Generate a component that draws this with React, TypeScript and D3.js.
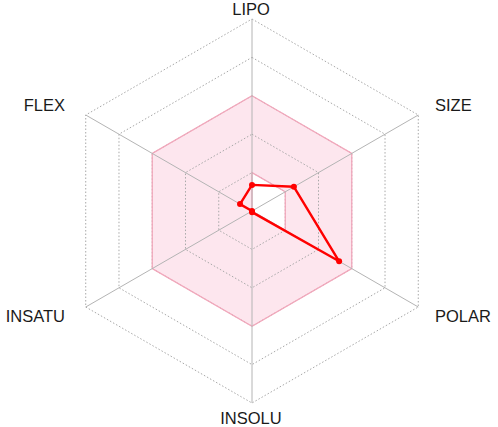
import React from 'react';
import { scaleLinear, lineRadial, curveLinearClosed } from 'd3';

// axis labels, clockwise from the top
const axes = ['LIPO', 'SIZE', 'POLAR', 'INSOLU', 'INSATU', 'FLEX'];
// compound values (0..5 scale)
const values = [0.68, 1.26, 2.62, 0.03, 0, 0.36];
// optimal (pink) range per axis
const optMin = [1, 1, 1, 0, 0, 0];
const optMax = [3, 3, 3, 3, 3, 3];
const rings = [1, 2, 3, 4, 5];

const width = 498;
const height = 427;
const cx = 252;
const cy = 211;
const R = 192;

const App = () => {
  const rScale = scaleLinear().domain([0, 5]).range([0, R]);
  const angle = (i: number) => (i * 2 * Math.PI) / axes.length;
  const px = (i: number, v: number) => Math.sin(angle(i)) * rScale(v);
  const py = (i: number, v: number) => -Math.cos(angle(i)) * rScale(v);

  const ringPath = lineRadial<number>()
    .angle((_, i) => angle(i))
    .radius(d => rScale(d))
    .curve(curveLinearClosed);

  // pink band: outer polygon + inner polygon (evenodd)
  const outer = axes.map((_, i) => [px(i, optMax[i]), py(i, optMax[i])]);
  const inner = axes.map((_, i) => [px(i, optMin[i]), py(i, optMin[i])]);
  const poly = (pts: number[][]) => 'M' + pts.map(p => p.join(',')).join('L') + 'Z';

  const labelPos = (i: number) => {
    const s = Math.sin(angle(i));
    const c = Math.cos(angle(i));
    if (Math.abs(s) < 0.01) return { x: -1, y: -c * 204.5 + 8.5, anchor: 'middle' };
    return { x: s > 0 ? 183 : -187, y: -c * 211 + 5.5, anchor: s > 0 ? 'start' : 'end' };
  };

  return (
    <svg width={width} height={height} style={{ position: 'absolute', left: 0, top: 0, background: '#fff' }}
      fontFamily="'Liberation Sans', Arial, sans-serif">
      <g transform={`translate(${cx}, ${cy})`}>
        <path d={poly(outer) + poly(inner)} fillRule="evenodd" fill="#fde6ee" stroke="none" />
        {rings.map(r => (
          <path key={r} d={ringPath(axes.map(() => r)) || ''} fill="none"
            stroke="#a8a8a8" strokeWidth={1} strokeDasharray="1.5,2" />
        ))}
        <path d={poly(outer)} fill="none" stroke="#f2a7bb" strokeWidth={1.3} />
        <path d={poly(inner)} fill="none" stroke="#f2a7bb" strokeWidth={1.3} />
        {axes.map((a, i) => (
          <line key={a} x1={0} y1={0} x2={px(i, 5)} y2={py(i, 5)} stroke="#b4b4b4" strokeWidth={1} />
        ))}
        <path d={ringPath(values) || ''} fill="none" stroke="#ff0000" strokeWidth={2.4} strokeLinejoin="round" />
        {values.map((v, i) => (
          <circle key={i} cx={px(i, v)} cy={py(i, v)} r={3} fill="#ff0000" />
        ))}
        {axes.map((a, i) => {
          const p = labelPos(i);
          return (
            <text key={a} x={p.x} y={p.y} textAnchor={p.anchor}
              fontSize={16.5} fill="#1a1a1a">
              {a}
            </text>
          );
        })}
      </g>
    </svg>
  );
};

export default App;
